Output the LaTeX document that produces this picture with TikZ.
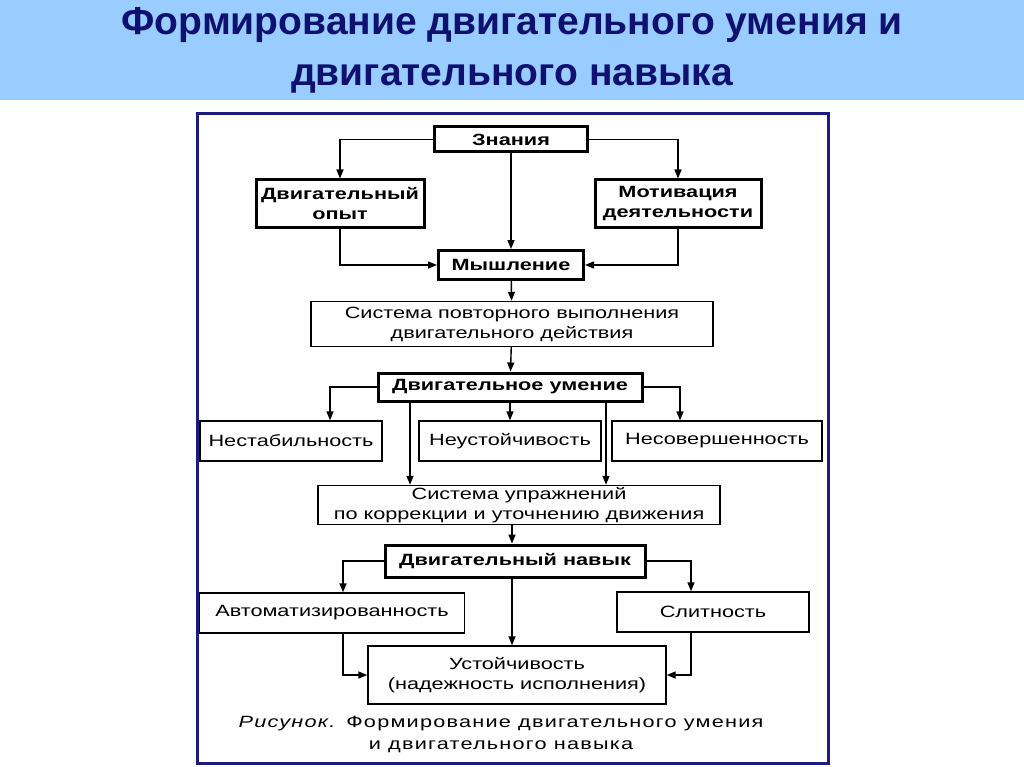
\documentclass[tikz,border=0pt]{standalone}
\usepackage{fontspec}
\setmainfont{Liberation Sans}
\newfontfamily\figfont[FakeStretch=1.33]{Liberation Sans}
\newfontfamily\capfont[FakeStretch=1.33,LetterSpace=7.5]{Liberation Sans}
\newfontfamily\titlefont[FakeStretch=1.0]{Liberation Sans}
\usepackage{xcolor}
\usetikzlibrary{arrows.meta}
\definecolor{bandblue}{HTML}{99CCFF}
\definecolor{titlenavy}{HTML}{101070}
\definecolor{framenavy}{HTML}{1C1C80}

\begin{document}
\begin{tikzpicture}[x=1pt,y=-1pt,
  thickbox/.style={draw,line width=3pt,fill=white,align=center,inner sep=1pt,
    font=\figfont\fontsize{16.3}{20}\selectfont\bfseries},
  thinbox/.style={draw,line width=1.4pt,fill=white,align=center,inner sep=1pt,
    font=\figfont\fontsize{16.3}{20}\selectfont},
  link/.style={line width=1.4pt,-{Triangle[length=9pt,width=7pt]}}]

\useasboundingbox (0,0) rectangle (1024,767);

% title band
\fill[bandblue] (0,0) rectangle (1024,100);
\node[font=\titlefont\fontsize{39}{44}\selectfont\bfseries,text=titlenavy] (TitleA) at (512,25) {Формирование двигательного умения и};
\node[font=\titlefont\fontsize{39}{44}\selectfont\bfseries,text=titlenavy] (TitleB) at (512,79) {двигательного навыка};

\draw[framenavy,line width=3pt] (197,114) rectangle (828,763);

% top
\node[thickbox,minimum width=153pt,minimum height=25pt] (Znaniya) at (511,139.5) {Знания};
\node[thickbox,minimum width=168pt,minimum height=48pt] (Opyt) at (340,204) {Двигательный\\опыт};
\node[thickbox,minimum width=166pt,minimum height=48pt] (Motiv) at (678,204) {Мотивация\\деятельности};
\node[thickbox,minimum width=145pt,minimum height=29pt] (Myshl) at (511,265) {Мышление};

\draw[link] (Znaniya.west) -| (Opyt.north);
\draw[link] (Znaniya.east) -| (Motiv.north);
\draw[link] (Znaniya) -- (Myshl);
\draw[link] (Opyt.south) |- (Myshl.west);
\draw[link] (Motiv.south) |- (Myshl.east);

% umenie
\node[thinbox,minimum width=402pt,minimum height=45pt] (SysPovt) at (512,324) {Система повторного выполнения\\двигательного действия};
\node[thickbox,minimum width=264pt,minimum height=28pt] (Umenie) at (510,387) {Двигательное умение};

\node[thinbox,minimum width=182pt,minimum height=40pt] (Nestab) at (291,441) {Нестабильность};
\node[thinbox,minimum width=182pt,minimum height=40pt] (Neust) at (510,441) {Неустойчивость};
\node[thinbox,minimum width=210pt,minimum height=40pt] (Nesover) at (717,441) {Несовершенность};

\draw[link] (Myshl) -- (SysPovt);
\draw[link] (SysPovt) -- (Umenie);
\draw[link] (Umenie.west) -| ([xshift=39pt]Nestab.north);
\draw[link] (Umenie.east) -| ([xshift=-37pt]Nesover.north);
\draw[link] (Umenie) -- (Neust);

% navyk
\node[thinbox,minimum width=402pt,minimum height=39pt] (SysUpr) at (519,505) {Система упражнений\\по коррекции и уточнению движения};
\node[thickbox,minimum width=260pt,minimum height=32pt] (Navyk) at (515,561) {Двигательный навык};

\draw[link] ([xshift=-100pt]Umenie.south) -- ([xshift=-100pt]Umenie.south |- SysUpr.north);
\draw[link] ([xshift=96pt]Umenie.south) -- ([xshift=96pt]Umenie.south |- SysUpr.north);
\draw[link] ([xshift=-7pt]SysUpr.south) -- ([xshift=-3pt]Navyk.north);

\node[thinbox,minimum width=265pt,minimum height=40pt] (Avtomat) at (332,613) {Автоматизированность};
\node[thinbox,minimum width=192pt,minimum height=40pt] (Slitnost) at (713,612) {Слитность};
\node[thinbox,minimum width=298pt,minimum height=58pt] (Ustoich) at (517,675) {Устойчивость\\(надежность исполнения)};

\draw[link] (Navyk.west) -| ([xshift=11pt]Avtomat.north);
\draw[link] (Navyk.east) -| ([xshift=-22pt]Slitnost.north);
\draw[link] ([xshift=-3pt]Navyk.south) -- ([xshift=-5pt]Ustoich.north);
\draw[link] ([xshift=11pt]Avtomat.south) |- (Ustoich.west);
\draw[link] ([xshift=-22pt]Slitnost.south) |- (Ustoich.east);

\node[align=center,font=\capfont\fontsize{16.3}{22}\selectfont] (Caption) at (501,734) {\textit{Рисунок.} Формирование двигательного умения\\и двигательного навыка};

\end{tikzpicture}
\end{document}
